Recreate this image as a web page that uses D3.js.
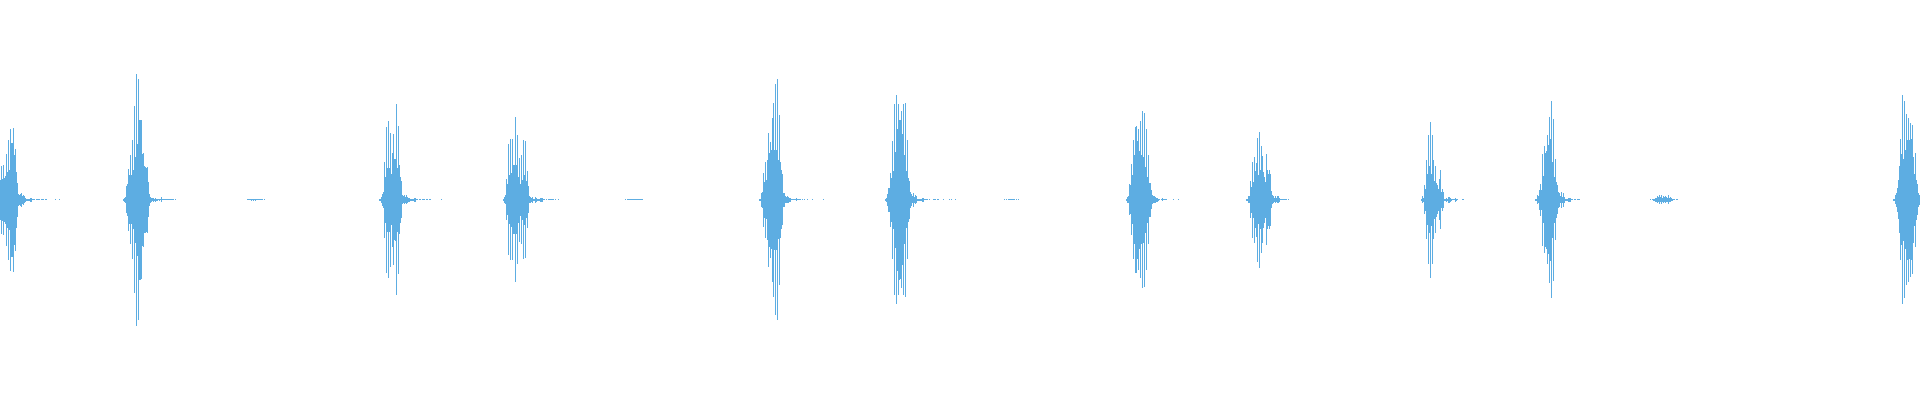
<!DOCTYPE html>
<html>
<head>
<meta charset="utf-8">
<script src="https://cdn.jsdelivr.net/npm/d3@7"></script>
<style>
  html, body { margin: 0; padding: 0; background: #ffffff; }
  svg { display: block; }
</style>
</head>
<body>
<svg id="chart" width="1920" height="400"></svg>
<script>
// Waveform peak data: each burst = start column (sample bin) + peak amplitudes per bin.
// Amplitude units: full scale = 200. A value of 0 means silence (nothing drawn).
const totalBins = 1920;
const amplitudeMax = 200;

const burstStarts = [0, 123, 247, 379, 503, 625, 759, 885, 1004, 1126, 1246, 1421, 1535, 1650, 1893];

const burst01 = [20,34,21,35,22,24,46,28,60,30,71,57,57,72,45,51,28,17,6,5,6,7,4,5,3.5,2,1,1,1,1,2,2,0.5,0.5,0.5,0,0.5,0.5,0.5,0.5,0,0.5,0.5,0.5,0,0.5,0.5,0,0,0,0,0,0,0,0,0.5,0,0,0,0.5];
const burst02 = [1,2,3,13.5,16,31,24.5,44.5,24.5,59.5,29.5,93.5,43,126,56,120.5,80,80,79.5,46,47,33.5,33,32,33,17.5,6,3,2,1.5,2,1,2,1,1,0.5,1,0.5,2.5,0.5,0.5,0.5,0.5,0.5,0.5,0.5,0.5,0.5,0.5,0.5,0.5,0,0.5];
const burst03 = [0.5,0.5,0.5,0.5,1,0.5,1,0.5,1,0.5,0.5,0.5,0.5,0.5,0.5,0.5,0,0.5];
const burst04 = [1,1,3,6,8,38,23,73,32,78.5,32,67,25.5,47,65.5,40.5,41,95.5,32,74,34.5,23,18.5,4.5,3.5,4.5,3,4.5,3,2,2,1,1,1,1,2,2,0.5,0.5,0,0.5,0.5,0,0.5,0.5,0.5,0,0.5,0.5,0,0.5,0.5,0,0,0,0,0,0,0,0,0,0,0.5];
const burst05 = [1,3,4.5,20.5,15.5,55.5,24.5,60.5,27,60.5,34.5,34.5,82.5,34.5,64.5,23,42,16,44.5,20,59.5,25,58.5,18.5,28.5,13.5,3.5,3,2,3,1,1,3,2,1,1,1,2,2,2,0.5,0.5,0,0.5,0,0.5,0.5,0.5,0.5,0.5,0.5,0,0.5,0,0,0.5];
const burst06 = [0.5,0,0.5,0.5,0.5,0.5,0.5,0.5,0.5,0.5,0.5,0.5,0.5,0.5,0.5,0.5,0.5,0.5];
const burst07 = [1,1,7,8,27,18,38,19.5,40,67,47,58,49.5,82,97,50,115.5,50,120.5,39.5,85,38,29.5,25.5,7,7,3.5,3,3.5,3,2,2,0.5,0.5,0.5,0.5,0.5,1.5,0.5,0.5,0.5,0.5,0,0.5,0,0.5,0,0,0.5,0,0,0,0,0.5,0,0,0,0,0,0,0,0,0,0,0.5];
const burst08 = [1,2,6,12,12,27,22,59,29,95.5,48,104.5,71,95.5,80,79.5,88.5,65.5,95.5,44.5,97,28.5,59.5,22,19,8,6,3.5,7,3,4.5,3.5,1,1,1,1,1,2,2,0.5,0.5,0.5,0.5,0,0.5,0,0,0,0.5,0.5,0.5,0,0.5,0.5,0,0,0,0,0.5,0,0,0,0,0,0.5,0,0.5,0,0,0,0.5];
const burst09 = [0.5,0,0.5,0,0.5,0.5,0.5,0.5,0.5,0.5,0.5,0,0.5,0,0.5];
const burst10 = [1,3,3.5,15.5,14.5,35.5,24.5,59.5,44.5,73,73.5,59,70.5,49,78.5,44.5,88.5,43,87,33,70.5,23,44.5,17,17,9.5,4.5,3.5,3.5,3,2,2,1,0.5,0,0.5,1.5,0.5,0.5,0.5,0.5,0,0,0,0,0,0,0.5,0,0,0,0,0.5];
const burst11 = [1,1,3.5,3.5,18.5,13,38,18,43,28.5,37,62,24.5,68,29.5,53.5,43.5,28,23,18,45.5,29.5,26,29.5,26,8.5,4.5,3.5,2,3.5,2,3.5,3.5,2,0.5,0.5,0.5,0.5,0.5,0.5,0.5,0,0.5];
const burst12 = [1,3.5,2,14.5,11,39.5,25.5,64.5,33.5,78,26,64.5,39.5,19,33.5,17,14.5,11,20.5,29.5,8,11,8,1,1,2,1,3,3,2,1,0.5,0.5,0.5,2,1,0.5,0,0,0,0,0.5,0.5];
const burst13 = [1,1,4.5,3.5,10,16,10,46,23.5,53.5,47,49,64.5,54.5,83,61,98.5,38,81,23,40.5,18,14.5,8,7,3.5,8,3,7,3,1,1,1,2,2,2,0.5,0.5,0,0.5,0.5,0,0.5,0.5,0.5];
const burst14 = [0.5,0,0.5,1,1,2,2,3.5,2.5,4.5,2.5,4.5,2,3.5,2.5,3.5,2.5,2,4.5,2,2.5,1.5,1,0.5,0.5,0,0.5,0.5];
const burst15 = [1,1,4.5,7,12,19.5,33.5,60.5,45.5,104.5,41,98.5,49.5,85.5,60,82,59.5,77,60.5,74.5,43,26,47,20,15.5,7,5];

const burstPeaks = [burst01, burst02, burst03, burst04, burst05, burst06, burst07, burst08,
                    burst09, burst10, burst11, burst12, burst13, burst14, burst15];

const width = 1920, height = 400;
const svg = d3.select("#chart");
svg.append("rect").attr("width", width).attr("height", height).attr("fill", "#ffffff");

const x = d3.scaleLinear().domain([0, totalBins]).range([0, width]);
const y = d3.scaleLinear().domain([-amplitudeMax, amplitudeMax]).range([height - 0.5, -0.5]);

// flatten to bins
const bins = [];
burstPeaks.forEach((arr, bi) => {
  arr.forEach((a, i) => {
    if (a > 0) bins.push({ t: burstStarts[bi] + i, a: a });
  });
});

const binW = x(1) - x(0);
svg.append("g")
  .attr("shape-rendering", "crispEdges")
  .selectAll("rect")
  .data(bins)
  .join("rect")
  .attr("x", d => x(d.t))
  .attr("width", binW)
  .attr("y", d => y(d.a))
  .attr("height", d => Math.max(1, y(-d.a) - y(d.a)))
  .attr("fill", "#5dade2");
</script>
</body>
</html>
